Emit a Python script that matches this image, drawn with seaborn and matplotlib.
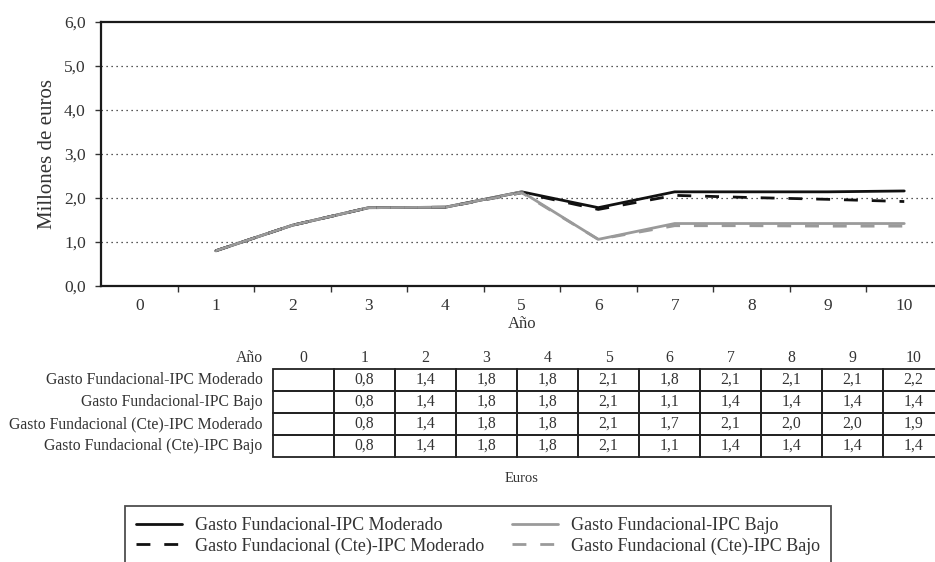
import numpy as np
import pandas as pd
import matplotlib
matplotlib.use('Agg')
import matplotlib.pyplot as plt
from matplotlib.table import Table
import seaborn as sns

# Datos (millones de euros), año 0 sin valor
anos = list(range(11))
gasto_moderado = [np.nan, 0.80, 1.38, 1.78, 1.79, 2.14, 1.78, 2.14, 2.14, 2.14, 2.16]
gasto_bajo = [np.nan, 0.80, 1.38, 1.78, 1.79, 2.14, 1.06, 1.42, 1.42, 1.42, 1.42]
gasto_cte_moderado = [np.nan, 0.80, 1.38, 1.78, 1.79, 2.12, 1.74, 2.06, 2.01, 1.97, 1.92]
gasto_cte_bajo = [np.nan, 0.80, 1.38, 1.78, 1.79, 2.12, 1.06, 1.37, 1.37, 1.36, 1.36]

nombres = ['Gasto Fundacional-IPC Moderado',
           'Gasto Fundacional-IPC Bajo',
           'Gasto Fundacional (Cte)-IPC Moderado',
           'Gasto Fundacional (Cte)-IPC Bajo']
valores = [gasto_moderado, gasto_bajo, gasto_cte_moderado, gasto_cte_bajo]
colores = ['#111111', '#9a9a9a', '#111111', '#9a9a9a']
estilos = ['-', '-', (0, (5, 5)), (0, (5, 5))]

sns.set_theme(style='white')
plt.rcParams['font.family'] = ['Liberation Serif', 'DejaVu Serif']

W, H = 935, 562
fig = plt.figure(figsize=(W / 100, H / 100), dpi=100)
ax = fig.add_axes([101 / W, 1 - 286 / H, 841.5 / W, 264 / H])

for nombre, vals, col, ls in zip(nombres, valores, colores, estilos):
    df = pd.DataFrame({'Año': anos, 'valor': vals}).dropna()
    sns.lineplot(data=df, x='Año', y='valor', ax=ax, color=col, linestyle=ls,
                 linewidth=2.0, label=nombre)
h, l = ax.get_legend_handles_labels()
handles = dict(zip(l, h))
if ax.get_legend() is not None:
    ax.get_legend().remove()

ax.set_xlim(-0.5, 10.5)
ax.set_ylim(0, 6)
ax.set_yticks(range(7))
ax.set_yticklabels([f'{v:.1f}'.replace('.', ',') for v in range(7)], fontsize=12.5)
ax.set_xticks(anos)
ax.set_xticklabels([str(a) for a in anos], fontsize=12.5)
ax.set_xticks(np.arange(0.5, 10.5, 1), minor=True)
ax.tick_params(axis='x', which='major', length=0, pad=9)
ax.tick_params(axis='x', which='minor', length=4, width=1, direction='out', bottom=True)
ax.tick_params(axis='y', length=4, width=1, direction='out', pad=7, left=True)
ax.tick_params(which='both', colors='#333333')

for y in range(1, 6):
    ax.axhline(y, color='#222222', linestyle=(0, (1, 3)), linewidth=0.9, zorder=0)

for s in ['left', 'top', 'bottom']:
    ax.spines[s].set_color('#1a1a1a')
    ax.spines[s].set_linewidth(1.6)
ax.spines['right'].set_visible(False)

ax.set_xlabel('Año', fontsize=12, color='#333333', labelpad=1)
ax.set_ylabel('Millones de euros', fontsize=15, color='#333333', labelpad=5)

# Tabla de datos
tax = fig.add_axes([12 / W, 1 - 457 / H, 932 / W, 110 / H])
tax.axis('off')
tbl = Table(tax, bbox=[0, 0, 1, 1])
wl = 261 / 932
wc = 61 / 932
hr = 1 / 5


def fmt(v):
    return '' if np.isnan(v) else f'{v:.1f}'.replace('.', ',')


def celda(i, j, w, texto, loc, borde):
    c = tbl.add_cell(i, j, w, hr, text=texto, loc=loc, facecolor='none',
                     edgecolor='#222222')
    c.visible_edges = 'closed' if borde else 'open'
    c.set_linewidth(1.3)
    if loc == 'right':
        c.PAD = 0.04
    return c


celda(0, 0, wl, 'Año', 'right', False)
for j, a in enumerate(anos):
    celda(0, j + 1, wc, str(a), 'center', False)
for i, (nombre, vals) in enumerate(zip(nombres, valores)):
    celda(i + 1, 0, wl, nombre, 'right', False)
    for j, v in enumerate(vals):
        celda(i + 1, j + 1, wc, fmt(v), 'center', True)
tbl.auto_set_font_size(False)
tbl.set_fontsize(11.3)
for cell in tbl.get_celld().values():
    cell.get_text().set_color('#333333')
tax.add_table(tbl)

fig.text(522 / W, 1 - 478 / H, 'Euros', ha='center', va='center', fontsize=10.5, color='#333333')

orden = [nombres[0], nombres[2], nombres[1], nombres[3]]
leg = fig.legend([handles[n] for n in orden], orden, ncol=2, loc='upper left',
                 bbox_to_anchor=(125 / W, 1 - 506 / H), frameon=True, fancybox=False,
                 fontsize=13, handlelength=2.55, handletextpad=0.72, columnspacing=1.55,
                 labelspacing=0.2, borderpad=0.6, borderaxespad=0)
leg.get_frame().set_edgecolor('#222222')
leg.get_frame().set_linewidth(1.3)
for t in leg.get_texts():
    t.set_color('#333333')

fig.savefig('out.png', dpi=100)
